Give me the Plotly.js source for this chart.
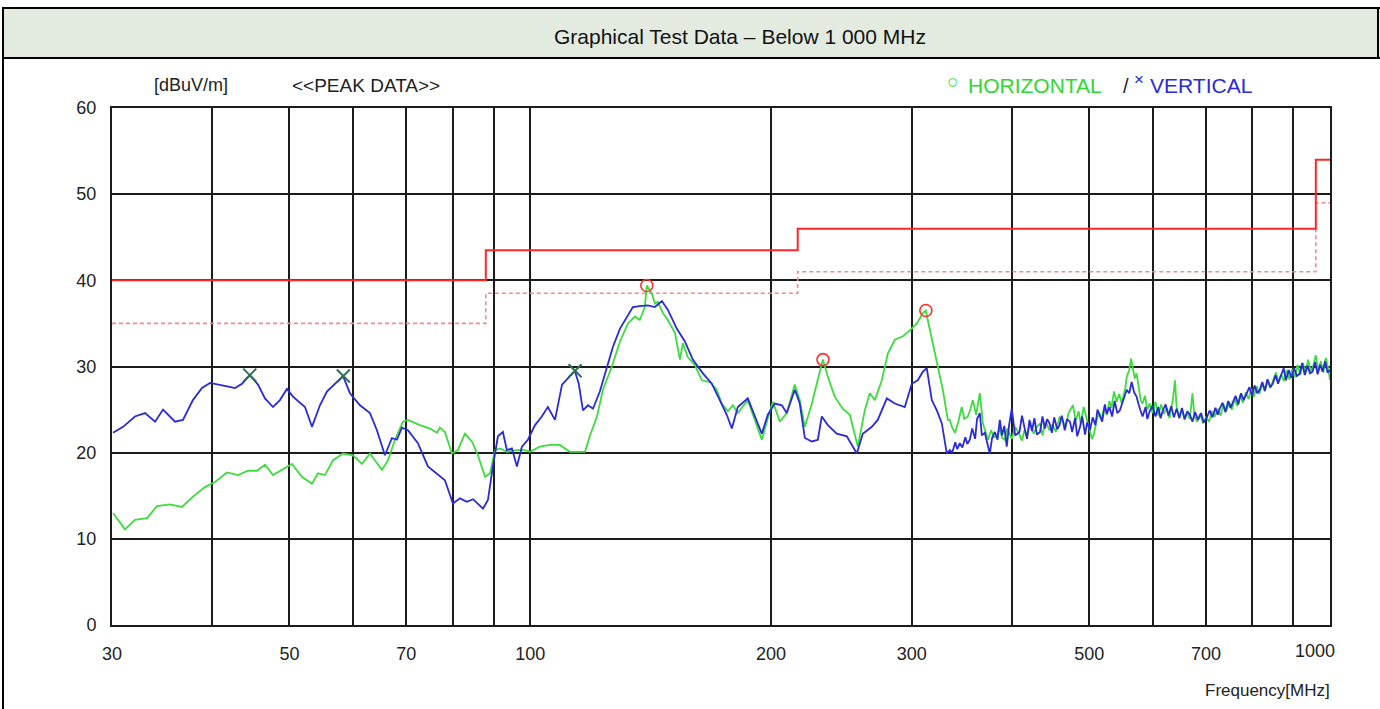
<!DOCTYPE html>
<html>
<head>
<meta charset="utf-8">
<script src="https://cdn.plot.ly/plotly-3.0.1.min.js"></script>
<style>
html,body{margin:0;padding:0;background:#fff;}
#chart{width:1380px;height:709px;}
</style>
</head>
<body>
<div id="chart"></div>
<script>
// ---------------- DATA ----------------
// Vertical polarisation (blue)
const vFreq = [30.09,30.97,32.05,32.99,33.96,34.75,35.97,36.80,37.87,38.87,39.79,40.60,41.78,42.75,43.62,44.63,45.67,46.60,47.69,48.65,49.64,50.51,52.29,53.35,54.59,55.70,57.00,58.33,59.52,61.25,63.04,64.32,65.82,67.16,68.13,69.12,70.33,72.38,74.49,76.45,78.23,80.05,81.68,83.34,84.82,87.30,88.54,89.82,91.12,92.44,93.51,94.87,96.24,97.64,99.34,101.4,103.4,105.2,107.4,109.6,111.5,113.7,115.0,116.4,118.1,119.8,122.2,124.7,126.9,129.5,132.1,134.4,137.1,140.3,143.2,146.1,148.6,152.5,156.1,159.7,164.4,168.7,172.6,176.1,178.7,181.8,187.1,190.9,194.8,198.2,202.2,206.4,209.3,214.2,217.3,220.5,225.0,228.9,231.5,235.6,241.7,248.8,256.1,260.5,267.4,272.0,279.2,285.7,294.0,300.0,305.2,309.7,313.2,317.8,322.4,327.1,331.8,
334.7,337,340,342,344.5,347,350,352,354.5,357,360,362,364.9,367,370.2,373,375.5,378,381,384,386.5,389,391.5,394.3,397,
400,404,409,412,415,418,421,424,427,430,434,437,440,443,446,449,452,456,459,462,466,469,473,476,480,483,487,490,494,497,501,505,509,512,515,519,523,526,530,534,538,542,546,550,553,557,561,565,569,573,578,583,588,591,595,600,605,610,614,618,623,628,633,638,643,648,653,658,663,668,673,678,684,690,695,701,707,713,719,724,728,734,740,746,751,756,762,768,774,780,787,793,799,805,811,817,823,829,835,842,848,855,861,868,875,881,888,895,902,909,917,923,930,937,944,951,958,965,972,979,986,993,1000];
const vLevel = [22.3,23.0,24.2,24.6,23.6,25.0,23.6,23.8,26.1,27.5,28.1,27.9,27.7,27.5,28.0,29.0,27.9,26.3,25.3,26.1,27.4,26.5,25.3,23.0,25.5,27.1,28.0,28.9,26.9,25.5,24.6,22.6,19.7,21.7,21.5,22.9,22.6,21.1,18.4,17.6,16.8,14.1,14.7,14.3,14.6,13.5,14.5,18.4,21.9,22.4,20.3,20.5,18.4,20.7,21.5,23.2,24.2,25.3,23.8,27.9,28.6,29.5,28.0,24.9,25.5,25.1,27.1,30.0,32.3,34.4,35.8,36.9,37.0,37.1,36.9,37.6,36.6,34.4,32.9,30.8,29.2,28.0,26.1,24.4,22.8,25.3,26.3,24.2,22.2,24.4,25.7,25.5,24.6,27.3,25.7,21.7,21.3,21.5,24.2,23.2,22.2,21.9,19.9,22.2,23.0,23.8,26.3,25.7,25.3,28.0,28.4,29.4,29.8,26.1,24.9,23.4,19.9,
20.3,20.0,21.2,20.4,21.1,20.6,21.8,21.0,21.5,22.8,21.6,23.9,24.6,22.0,22.3,20.8,19.9,21.7,22.4,21.5,23.8,22.0,23.1,20.7,23.2,
25.1,22.0,22.4,24.3,22.9,21.6,23.8,22.5,24.0,22.1,22.4,24.2,22.8,23.9,23.4,22.3,24.1,22.7,23.2,24.3,22.6,23.9,23.6,22.4,24.0,21.9,23.0,24.2,22.1,23.5,22.6,24.1,23.2,25.0,24.4,23.6,25.6,24.5,25.3,24.2,26.0,24.6,24.9,25.8,26.4,27.3,26.9,28.2,27.0,26.5,25.2,24.2,25.3,23.9,24.8,25.5,24.2,25.3,24.0,24.9,25.6,24.3,25.4,24.1,25.1,24.0,25.2,23.9,24.8,24.4,23.6,24.7,23.8,24.6,23.5,24.0,24.9,24.1,25.2,24.4,25.1,25.8,24.7,26.0,25.2,25.9,26.6,25.6,26.9,26.1,26.9,27.6,26.6,27.8,26.9,27.3,28.2,27.2,28.5,27.6,28.0,29.0,28.0,28.9,29.8,28.4,29.6,28.7,29.8,28.9,29.2,30.4,29.0,30.1,29.2,29.4,30.5,29.1,30.2,29.4,30.6,29.3,29.6];

// Horizontal polarisation (green)
const hFreq = [30.09,31.14,32.05,33.18,34.15,35.45,36.70,37.87,39.21,40.35,41.78,43.12,44.37,45.54,46.60,47.69,50.36,51.83,53.35,54.28,55.38,56.67,58.33,60.04,61.61,63.04,63.97,65.26,66.39,67.75,69.32,70.33,72.80,74.93,76.45,77.11,78.23,79.82,81.21,82.86,84.55,86.02,87.81,89.07,90.36,91.65,93.51,96.24,98.48,100.0,102.8,105.8,108.9,112.1,115.4,117.1,118.7,121.2,123.3,126.5,129.5,132.5,135.2,137.1,139.1,139.9,141.9,143.2,144.4,146.5,148.6,151.7,153.9,155.2,157.4,160.6,163.9,167.7,171.1,173.6,176.7,179.2,181.8,187.1,190.9,194.8,198.2,201.1,205.2,209.3,214.2,217.3,220.5,225.0,228.2,232.2,235.6,240.3,245.9,251.0,256.8,262.0,265.8,269.7,275.2,280.0,285.7,292.3,298.3,304.4,309.7,312.3,314.1,318.7,323.3,328.0,332.8,
334.7,337,339.7,343,346.4,349,352.5,355,357.6,361,364.9,368.1,371,373.5,377,380,383.2,386,389,392,395,398,
400,404,408,412,415,418,422,426,430,434,437,441,446,450,454,459,463,467,471,477,481,485,488,492,496,500,504,507,511,515,518,522,526,530,533,537,541,545,549,552,555,557,561,564,567,570,573,577,580,583,587,591,595,600,605,610,615,620,625,630,636,640,643,648,653,658,663,668,673,677,682,688,694,700,706,712,718,724,730,736,742,748,754,760,766,772,778,785,791,797,803,810,816,823,829,836,842,849,856,862,869,876,883,890,897,904,911,918,925,932,939,946,953,960,967,974,981,988,995,1000];
const hLevel = [13.0,11.1,12.2,12.4,13.8,14.0,13.7,14.9,16.0,16.6,17.7,17.4,17.9,17.9,18.6,17.4,18.7,17.2,16.4,17.6,17.4,19.1,19.9,19.7,18.7,19.9,19.1,18.0,19.1,21.5,23.6,23.8,23.2,22.8,22.3,22.9,22.4,19.9,20.3,22.2,21.3,19.7,17.2,17.6,20.3,20.5,20.1,20.3,20.3,20.1,20.7,20.9,20.9,20.1,20.1,20.1,21.9,24.2,27.3,30.0,32.9,35.0,35.8,35.4,36.9,39.4,38.5,37.3,37.5,36.2,35.4,33.9,30.8,32.7,31.1,30.2,28.4,28.2,27.3,25.7,24.8,25.5,24.6,26.1,23.8,21.5,24.0,25.9,23.6,24.6,27.9,26.1,23.0,25.7,28.0,30.8,28.8,26.5,25.1,24.4,20.7,24.9,26.9,26.1,28.4,31.5,33.1,33.5,34.2,35.0,36.2,36.5,35.4,32.7,30.2,27.3,23.8,
23.8,22.9,22.3,23.6,25.3,23.9,24.2,25.0,26.1,24.4,26.9,23.4,22.2,21.5,22.6,21.8,21.9,22.9,21.7,21.5,22.8,22.0,
21.6,23.0,22.3,21.4,22.6,21.9,23.5,22.2,23.0,23.4,22.0,23.6,22.6,23.3,22.4,24.1,23.8,22.9,24.6,25.5,23.7,24.8,23.3,25.3,23.9,22.8,21.6,22.2,23.9,24.6,23.8,25.3,24.4,26.0,25.2,27.1,25.9,26.8,25.7,26.5,27.6,28.8,29.6,30.9,29.8,28.6,29.2,27.3,26.0,25.7,26.6,25.0,25.7,24.6,25.9,24.3,25.6,24.5,25.2,24.0,26.1,28.4,25.3,24.2,25.0,23.8,24.6,23.9,26.9,24.2,23.6,24.5,23.4,24.1,23.6,24.8,24.2,25.1,24.3,25.6,24.8,25.9,25.0,26.2,25.4,26.7,25.8,27.0,26.2,27.4,26.5,27.7,26.8,28.0,27.1,28.5,27.5,28.4,29.3,28.2,29.1,28.3,29.6,28.5,29.7,28.8,30.2,29.0,30.4,29.2,30.8,29.4,30.1,31.3,29.5,30.6,29.3,31.0,29.8,28.4];

// Limit (solid) and margin (dotted) lines
const limitFreq   = [30, 88, 88, 216, 216, 960, 960, 1000];
const limitLevel  = [40, 40, 43.5, 43.5, 46, 46, 54, 54];
const marginLevel = [35, 35, 38.5, 38.5, 41, 41, 49, 49];

// Peak markers
const hPeakFreq  = [139.9, 232.3, 312.4];
const hPeakLevel = [39.4, 30.8, 36.5];
const vPeakFreq  = [44.6, 58.4, 113.8];
const vPeakLevel = [29.0, 28.9, 29.5];

// Axis ticks
const xTickVals  = [30, 50, 70, 100, 200, 300, 500, 700];
const xTickText  = ['30', '50', '70', '100', '200', '300', '500', '700'];
const xGridExtra = [40, 60, 80, 90, 400, 600, 800, 900, 1000];
const xLastLabel = '1000';
const yTickVals  = [0, 10, 20, 30, 40, 50, 60];

// ---------------- LAYOUT HELPERS ----------------
const L = 112, R = 1330, T = 108, B = 625, W = 1380, H = 709;
const px = p => (p - L) / (R - L);
const py = p => (B - p) / (B - T);
const FONT = 'Liberation Sans, Arial, sans-serif';
const GRID = '#1c1c1c';
const GREEN = '#2fd82f', BLUE = '#2a2ad8';

const traces = [
  {x: limitFreq, y: marginLevel, mode: 'lines', line: {color: '#f28c8c', width: 1.6, dash: '4px,3px'}, hoverinfo: 'skip'},
  {x: limitFreq, y: limitLevel, mode: 'lines', line: {color: '#ff2626', width: 2}, hoverinfo: 'skip'},
  {x: hFreq, y: hLevel, mode: 'lines', line: {color: '#3ddc3d', width: 1.8}},
  {x: vFreq, y: vLevel, mode: 'lines', line: {color: BLUE, width: 1.8}},
  {x: hPeakFreq, y: hPeakLevel, mode: 'markers', marker: {symbol: 'circle-open', size: 12, color: '#ff3030', line: {width: 1.6}}},
  {x: vPeakFreq, y: vPeakLevel, mode: 'markers', marker: {symbol: 'x-thin-open', size: 13, color: '#2f6f55', line: {width: 2}}}
];

const shapes = [
  {type: 'rect', xref: 'paper', yref: 'paper', x0: px(3), x1: px(1380), y0: py(58), y1: py(8), fillcolor: '#e3ebe1', line: {width: 0}, layer: 'below'},
  {type: 'line', xref: 'paper', yref: 'paper', x0: px(2), x1: px(1380), y0: py(8), y1: py(8), line: {color: '#000', width: 2}},
  {type: 'line', xref: 'paper', yref: 'paper', x0: px(3), x1: px(3), y0: py(8), y1: py(709), line: {color: '#000', width: 2}},
  {type: 'line', xref: 'paper', yref: 'paper', x0: px(1378), x1: px(1378), y0: py(8), y1: py(58), line: {color: '#000', width: 2}},
  {type: 'line', xref: 'paper', yref: 'paper', x0: px(3), x1: px(1380), y0: py(58), y1: py(58), line: {color: '#000', width: 2}}
];

function note(text, x, y, anchor, size, color) {
  return {text: text, xref: 'paper', yref: 'paper', x: px(x), y: py(y), xanchor: anchor, yanchor: 'middle',
          showarrow: false, font: {family: FONT, size: size, color: color}};
}

const annotations = [
  note('Graphical Test Data – Below 1 000 MHz', 740, 36, 'center', 21, '#111'),
  note('[dBuV/m]', 152, 85, 'left', 18, '#222'),
  note('&lt;&lt;PEAK DATA&gt;&gt;', 290, 85, 'left', 19, '#222'),
  note('○', 952, 81, 'center', 19, GREEN),
  note('HORIZONTAL', 966, 86, 'left', 21, GREEN),
  note('/', 1126, 86, 'center', 20, '#223'),
  note('×', 1139, 80, 'center', 17, BLUE),
  note('VERTICAL', 1148, 86, 'left', 21, BLUE),
  {text: xLastLabel, xref: 'x', yref: 'paper', x: 3, y: 0, xshift: -15, yshift: -26, xanchor: 'center', yanchor: 'middle', showarrow: false, font: {family: FONT, size: 18, color: '#222'}},
  note('Frequency[MHz]', 1332, 690, 'right', 17, '#222')
];

const layout = {
  width: W, height: H,
  margin: {l: L, r: W - R, t: T, b: H - B, pad: 0},
  paper_bgcolor: '#fff', plot_bgcolor: '#fff',
  showlegend: false,
  font: {family: FONT, size: 18, color: '#222'},
  xaxis: {
    type: 'log', range: [Math.log10(30), Math.log10(1000)],
    tickmode: 'array', tickvals: xTickVals, ticktext: xTickText,
    showgrid: true, gridcolor: GRID, gridwidth: 2,
    minor: {tickmode: 'array', tickvals: xGridExtra, showgrid: true, gridcolor: GRID, gridwidth: 2, ticks: ''},
    showline: true, linecolor: GRID, linewidth: 2, mirror: true,
    ticks: '', ticklabelstandoff: 11, zeroline: false,
    tickfont: {family: FONT, size: 18, color: '#222'}
  },
  yaxis: {
    range: [0, 60], tickmode: 'array', tickvals: yTickVals,
    showgrid: true, gridcolor: GRID, gridwidth: 2,
    showline: true, linecolor: GRID, linewidth: 2, mirror: true,
    ticks: '', ticklabelstandoff: 10, zeroline: false,
    tickfont: {family: FONT, size: 18, color: '#222'}
  },
  shapes: shapes,
  annotations: annotations
};

Plotly.newPlot('chart', traces, layout, {displayModeBar: false, staticPlot: true});
</script>
</body>
</html>
